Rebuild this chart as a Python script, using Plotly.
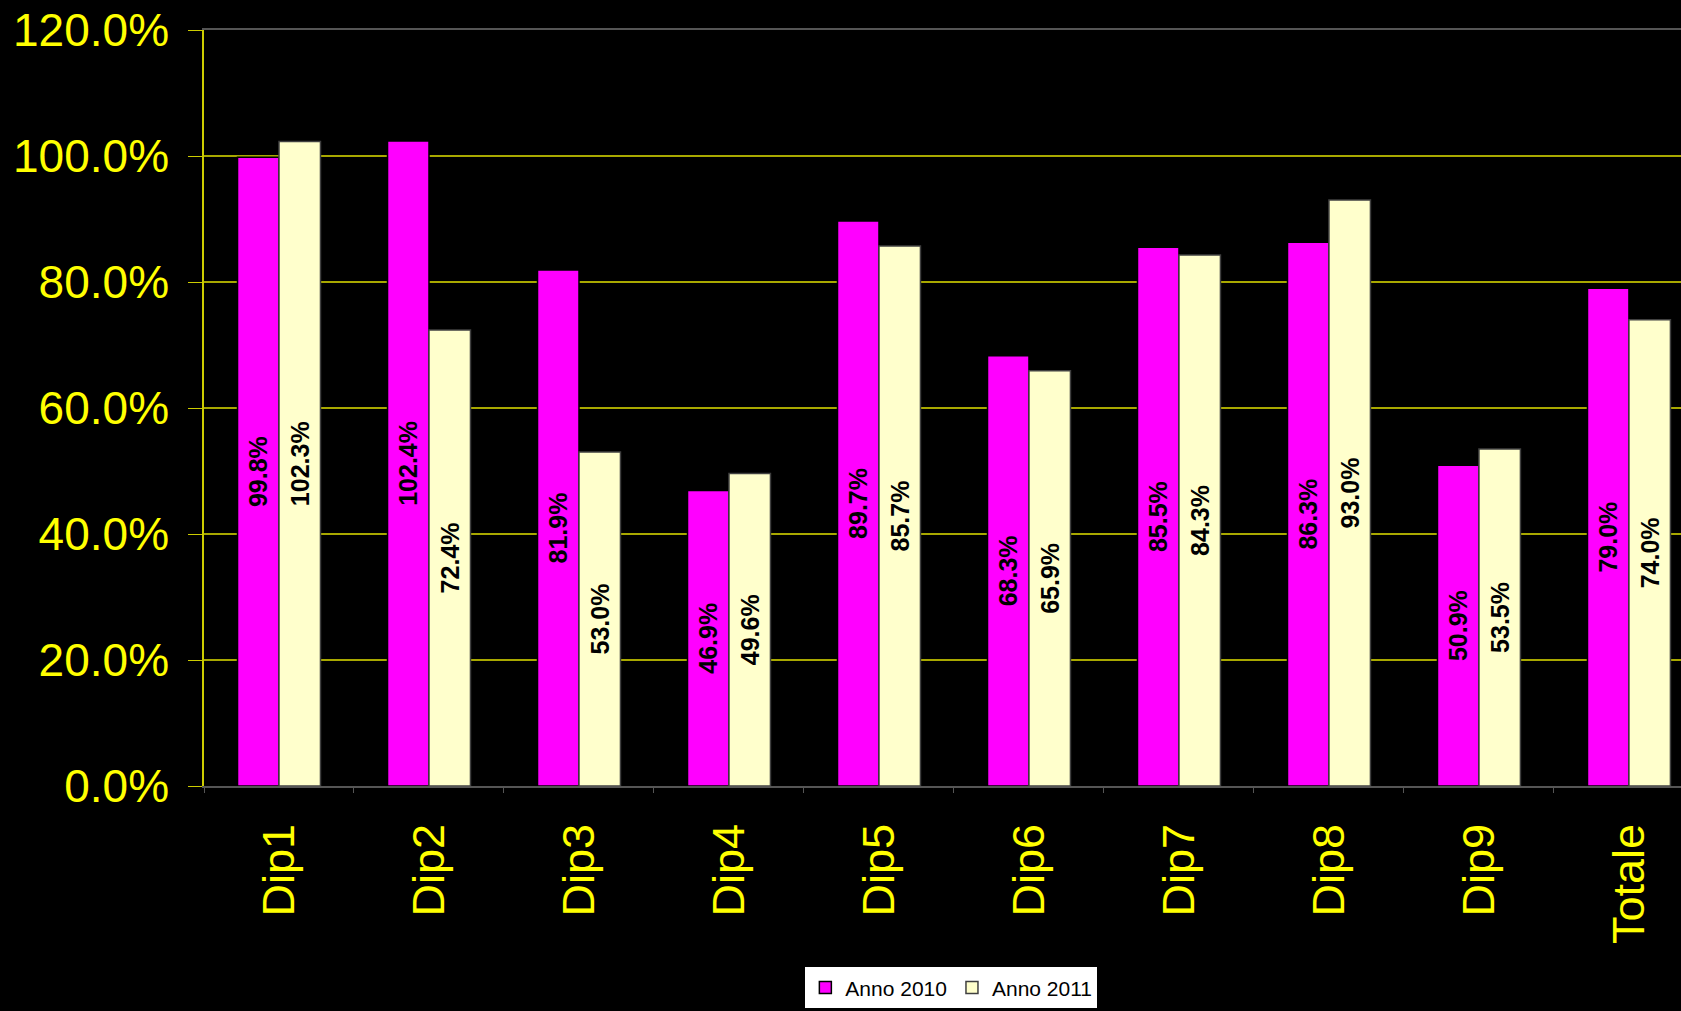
import plotly.graph_objects as go

categories = ["Dip1", "Dip2", "Dip3", "Dip4", "Dip5", "Dip6", "Dip7", "Dip8", "Dip9", "Totale"]
anno_2010 = [99.8, 102.4, 81.9, 46.9, 89.7, 68.3, 85.5, 86.3, 50.9, 79.0]
anno_2011 = [102.3, 72.4, 53.0, 49.6, 85.7, 65.9, 84.3, 93.0, 53.5, 74.0]
y_ticks = [0, 20, 40, 60, 80, 100, 120]

FONT = "Liberation Sans, Arial, sans-serif"
YELLOW = "#FFFF00"

fig = go.Figure()
for name, vals, colour, edge in [
    ("Anno 2010", anno_2010, "#FF00FF", "#000000"),
    ("Anno 2011", anno_2011, "#FFFFCC", "#404040"),
]:
    fig.add_trace(go.Bar(
        name=name,
        x=categories,
        y=vals,
        marker=dict(color=colour, line=dict(color=edge, width=1.5)),
        text=[f"{v:.1f}%" for v in vals],
        textposition="inside",
        insidetextanchor="middle",
        textangle=-90,
        constraintext="none",
        textfont=dict(family=FONT, size=25, color="black", weight="bold"),
    ))

fig.update_layout(
    width=1681,
    height=1011,
    paper_bgcolor="black",
    plot_bgcolor="black",
    barmode="group",
    bargap=0.447,
    bargroupgap=0,
    margin=dict(l=204, r=0, t=30, b=225),
    font=dict(family=FONT, color=YELLOW),
    legend=dict(
        orientation="h",
        x=0.506, xanchor="center",
        y=-0.294, yanchor="bottom",
        bgcolor="white",
        font=dict(family=FONT, size=21, color="black"),
        itemwidth=30,
        traceorder="normal",
    ),
    xaxis=dict(
        range=[-0.5, 9.347],
        showline=True,
        linecolor="#555555",
        linewidth=2,
        mirror=True,
        ticks="outside",
        tickson="boundaries",
        ticklen=5,
        tickcolor="#555555",
        tickangle=-90,
        tickfont=dict(family=FONT, size=45, color=YELLOW),
        ticklabelstandoff=18,
        showgrid=False,
    ),
    yaxis=dict(
        range=[0, 120],
        tickvals=y_ticks,
        ticktext=[f"{t:.1f}%" for t in y_ticks],
        showline=True,
        linecolor="#CCCC00",
        linewidth=1.5,
        ticks="outside",
        ticklen=14,
        tickcolor="#CCCC00",
        tickfont=dict(family=FONT, size=46, color=YELLOW),
        ticklabelstandoff=10,
        showgrid=True,
        gridcolor="#A8A800",
        gridwidth=1.5,
        zeroline=False,
    ),
)

fig.write_html(
    "out.html",
    config={"displayModeBar": False},
    post_script="document.body.style.margin='0';document.body.style.background='black';",
)
